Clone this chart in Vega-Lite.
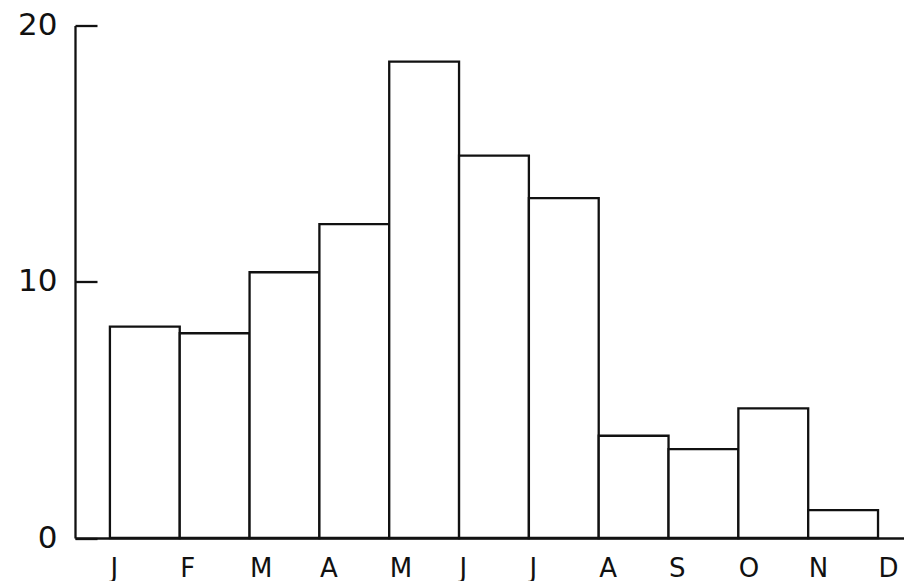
{
  "$schema": "https://vega.github.io/schema/vega-lite/v6.json",
  "width": 829,
  "height": 512.5,
  "autosize": {"type": "none"},
  "padding": {"left": 75, "top": 25.5, "right": 0, "bottom": 43},
  "background": "white",
  "config": {"view": {"stroke": null}, "font": "DejaVu Sans"},
  "data": {
    "values": [
      {"month": "Jan", "start": 0, "end": 1, "value": 8.25},
      {"month": "Feb", "start": 1, "end": 2, "value": 7.99},
      {"month": "Mar", "start": 2, "end": 3, "value": 10.37},
      {"month": "Apr", "start": 3, "end": 4, "value": 12.25},
      {"month": "May", "start": 4, "end": 5, "value": 18.59},
      {"month": "Jun", "start": 5, "end": 6, "value": 14.92},
      {"month": "Jul", "start": 6, "end": 7, "value": 13.26},
      {"month": "Aug", "start": 7, "end": 8, "value": 3.99},
      {"month": "Sep", "start": 8, "end": 9, "value": 3.47},
      {"month": "Oct", "start": 9, "end": 10, "value": 5.06},
      {"month": "Nov", "start": 10, "end": 11, "value": 1.09}
    ]
  },
  "mark": {"type": "rect", "fill": "white", "stroke": "#111111", "strokeWidth": 2.3},
  "encoding": {
    "x": {
      "field": "start",
      "type": "quantitative",
      "scale": {"domain": [-0.5, 11.372], "nice": false, "zero": false},
      "axis": {
        "title": null,
        "values": [0, 1, 2, 3, 4, 5, 6, 7, 8, 9, 10, 11],
        "labelExpr": "['J','F','M','A','M','J','J','A','S','O','N','D'][datum.value]",
        "ticks": false,
        "grid": false,
        "domainColor": "#111111",
        "domainWidth": 2.3,
        "labelAlign": "left",
        "labelBaseline": "top",
        "labelFlush": false,
        "labelOverlap": false,
        "labelBound": false,
        "labelFontSize": 26,
        "labelColor": "#111111",
        "labelPadding": 17
      }
    },
    "x2": {"field": "end"},
    "y": {
      "field": "value",
      "type": "quantitative",
      "scale": {"domain": [0, 20], "nice": false},
      "axis": {
        "title": null,
        "values": [0, 10, 20],
        "grid": false,
        "tickSize": -22,
        "tickColor": "#111111",
        "tickWidth": 2.3,
        "domainColor": "#111111",
        "domainWidth": 2.3,
        "labelFontSize": 31,
        "labelColor": "#111111",
        "labelPadding": 40,
        "labelFlush": false,
        "labelOverlap": false,
        "labelBound": false
      }
    },
    "y2": {"datum": 0}
  }
}
